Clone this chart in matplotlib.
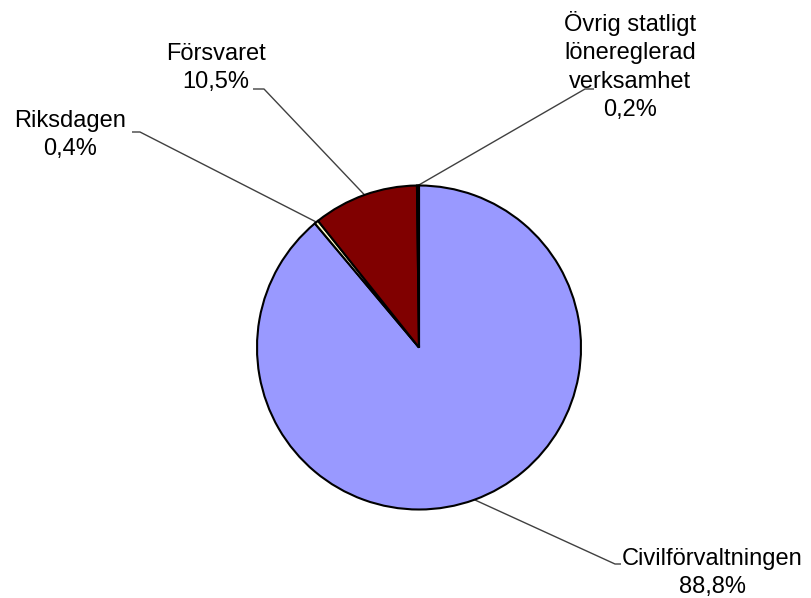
import numpy as np
import matplotlib
matplotlib.use("Agg")
import matplotlib.pyplot as plt

# Data
labels = ["Civilförvaltningen", "Riksdagen", "Försvaret",
          "Övrig statligt\nlönereglerad\nverksamhet"]
values = [88.8, 0.4, 10.5, 0.2]
value_labels = ["88,8%", "0,4%", "10,5%", "0,2%"]
colors = ["#9999FF", "#FFFFCC", "#800000", "#CCFFFF"]

W, H = 811, 598
CX, CY, R = 419, 250.5, 162   # pie centre/radius in pixel units (y up)

# label layout (image coords, y down): text centre x + baseline of last line,
# elbow of the leader line, end of the short horizontal stub
layout = [
    dict(text=(712, 593), elbow=(615, 564), end=(621, 564)),
    dict(text=(70, 155), elbow=(140, 132), end=(132, 132)),
    dict(text=(216, 88), elbow=(264, 89), end=(253, 89)),
    dict(text=(630, 116), elbow=(585, 89), end=(594, 89)),
]

plt.rcParams["font.family"] = ["Liberation Sans", "DejaVu Sans"]

fig = plt.figure(figsize=(W / 100, H / 100), dpi=100)
ax = fig.add_axes([0, 0, 1, 1])

wedges, _ = ax.pie(values, colors=colors, startangle=90, counterclock=False,
                   center=(CX, CY), radius=R, normalize=True,
                   wedgeprops=dict(edgecolor="black", linewidth=1.5))

ax.set_xlim(0, W)
ax.set_ylim(0, H)
ax.set_aspect("equal")
ax.axis("off")

for w, lab, val, lay in zip(wedges, labels, value_labels, layout):
    mid = np.deg2rad((w.theta1 + w.theta2) / 2)
    x0, y0 = CX + R * np.cos(mid), CY + R * np.sin(mid)
    ex, ey = lay["elbow"]
    sx, sy = lay["end"]
    ax.plot([x0, ex, sx], [y0, H - ey, H - sy], color="#404040", lw=1.0,
            zorder=0.5, solid_capstyle="butt")
    tx, ty = lay["text"]
    ax.text(tx, H - ty, f"{lab}\n{val}", ha="center", va="baseline",
            multialignment="center", fontsize=17, linespacing=1.38,
            color="black")

fig.savefig("out.png", dpi=100)
